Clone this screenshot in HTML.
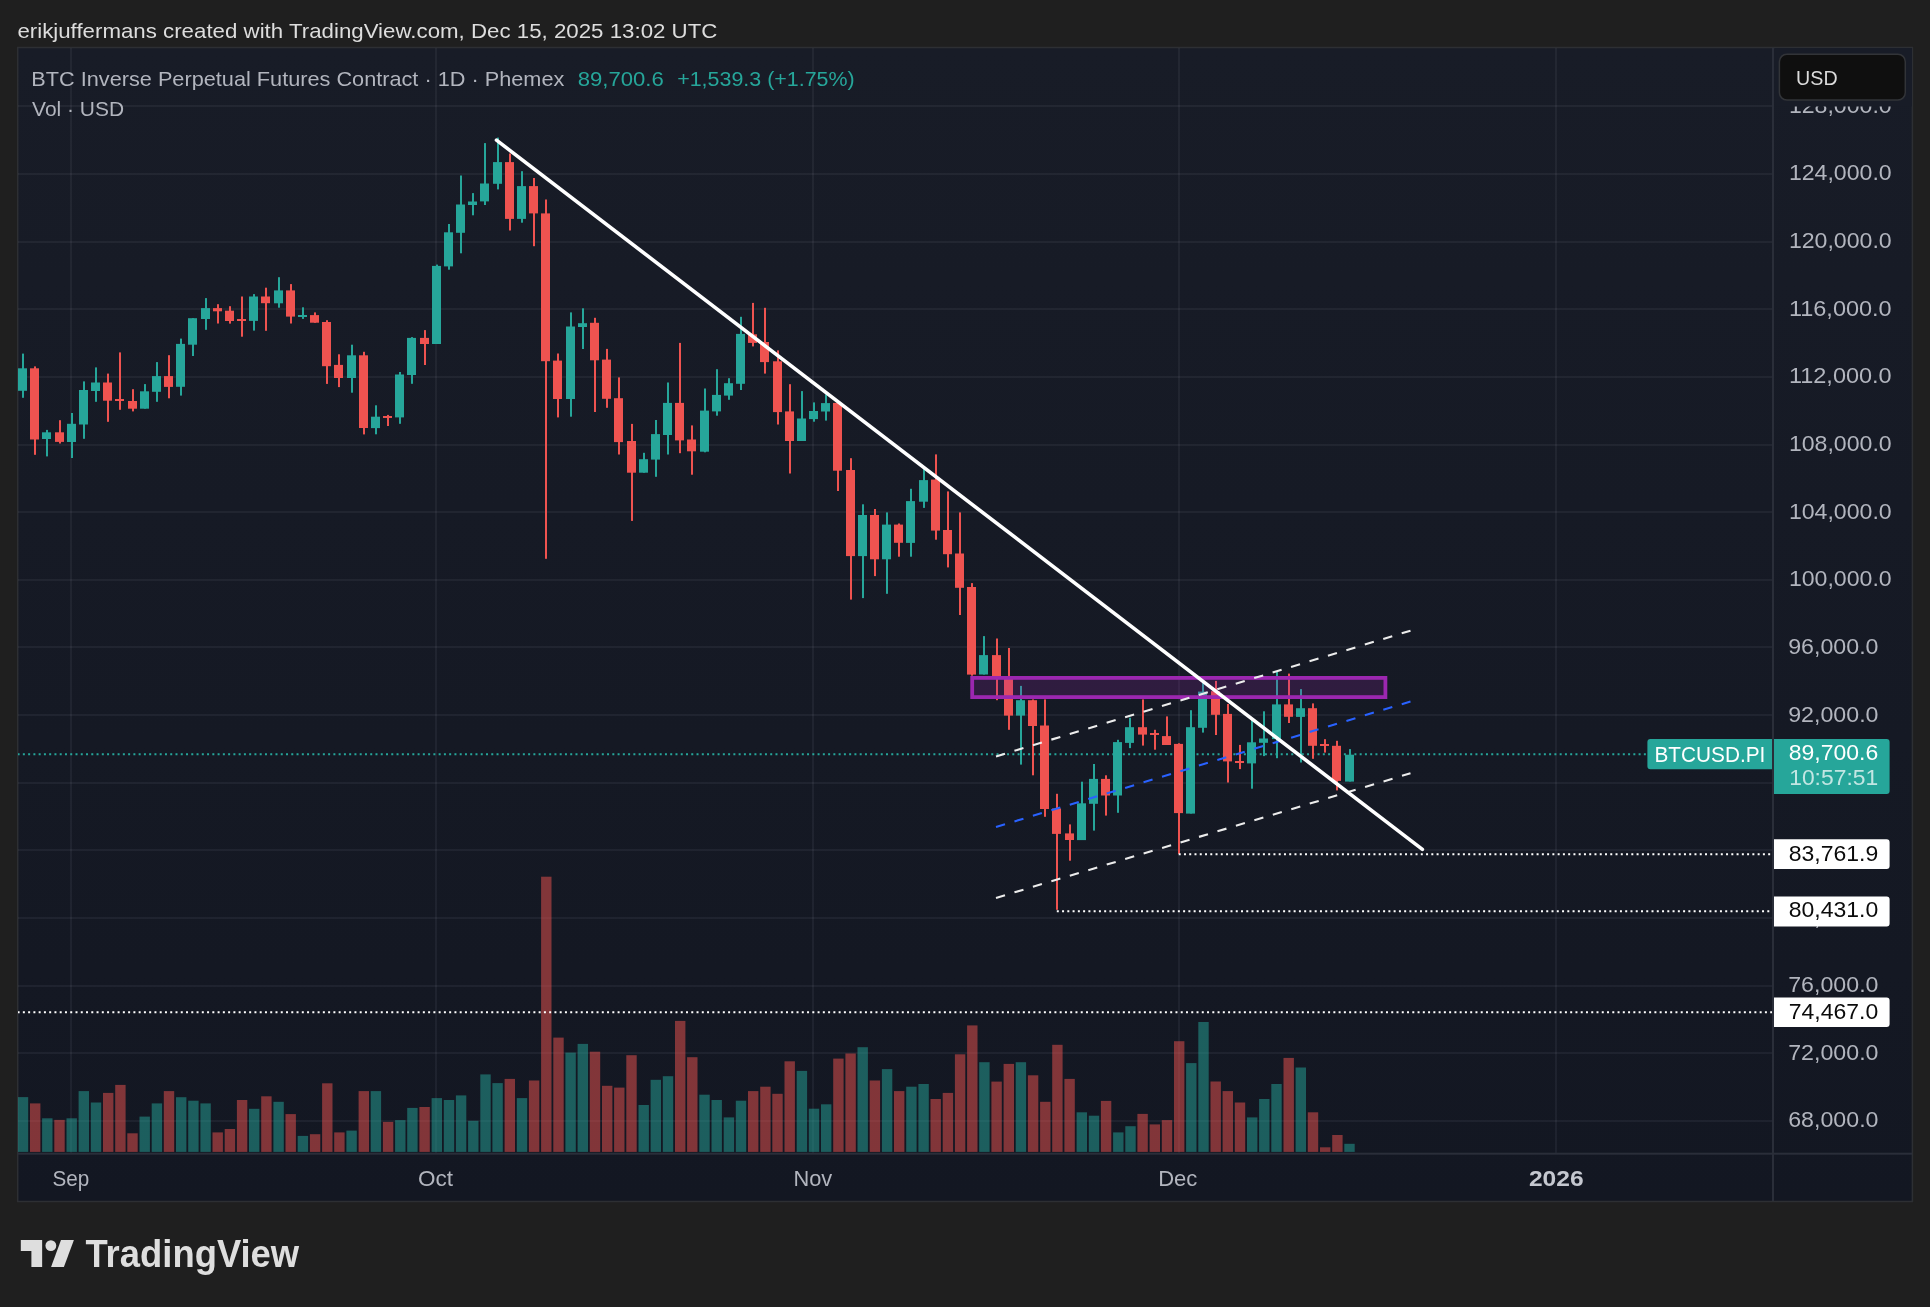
<!DOCTYPE html>
<html lang="en"><head><meta charset="utf-8"><title>BTCUSD.PI chart</title>
<style>html,body{margin:0;padding:0;background:#1f1f1f;}body{width:1930px;height:1307px;overflow:hidden;}svg{display:block;font-family:"Liberation Sans", sans-serif;will-change:transform;}text{white-space:pre;}</style></head><body>
<svg width="1930" height="1307" viewBox="0 0 1930 1307">
<defs><linearGradient id="bg" x1="0" y1="0" x2="0" y2="1"><stop offset="0" stop-color="#181c27"/><stop offset="1" stop-color="#131722"/></linearGradient>
<clipPath id="pane"><rect x="18" y="48" width="1755" height="1105"/></clipPath></defs>
<rect x="0" y="0" width="1930" height="1307" fill="#1f1f1f"/>
<text x="17.4" y="38.3" font-size="21.1" fill="#dddddd" textLength="700" lengthAdjust="spacingAndGlyphs">erikjuffermans created with TradingView.com, Dec 15, 2025 13:02 UTC</text>
<rect x="17.7" y="47.5" width="1894.7" height="1154" fill="url(#bg)" stroke="#2d2f33" stroke-width="1.5"/>
<rect x="18" y="105" width="1754" height="2" fill="rgba(240,243,250,0.056)"/>
<rect x="18" y="173" width="1754" height="2" fill="rgba(240,243,250,0.056)"/>
<rect x="18" y="241" width="1754" height="2" fill="rgba(240,243,250,0.056)"/>
<rect x="18" y="308" width="1754" height="2" fill="rgba(240,243,250,0.056)"/>
<rect x="18" y="376" width="1754" height="2" fill="rgba(240,243,250,0.056)"/>
<rect x="18" y="444" width="1754" height="2" fill="rgba(240,243,250,0.056)"/>
<rect x="18" y="511" width="1754" height="2" fill="rgba(240,243,250,0.056)"/>
<rect x="18" y="579" width="1754" height="2" fill="rgba(240,243,250,0.056)"/>
<rect x="18" y="646" width="1754" height="2" fill="rgba(240,243,250,0.056)"/>
<rect x="18" y="714" width="1754" height="2" fill="rgba(240,243,250,0.056)"/>
<rect x="18" y="782" width="1754" height="2" fill="rgba(240,243,250,0.056)"/>
<rect x="18" y="849" width="1754" height="2" fill="rgba(240,243,250,0.056)"/>
<rect x="18" y="917" width="1754" height="2" fill="rgba(240,243,250,0.056)"/>
<rect x="18" y="985" width="1754" height="2" fill="rgba(240,243,250,0.056)"/>
<rect x="18" y="1052" width="1754" height="2" fill="rgba(240,243,250,0.056)"/>
<rect x="18" y="1120" width="1754" height="2" fill="rgba(240,243,250,0.056)"/>
<rect x="70" y="48" width="2" height="1105" fill="rgba(240,243,250,0.056)"/>
<rect x="435" y="48" width="2" height="1105" fill="rgba(240,243,250,0.056)"/>
<rect x="812" y="48" width="2" height="1105" fill="rgba(240,243,250,0.056)"/>
<rect x="1178" y="48" width="2" height="1105" fill="rgba(240,243,250,0.056)"/>
<rect x="1555" y="48" width="2" height="1105" fill="rgba(240,243,250,0.056)"/>
<g clip-path="url(#pane)">
<rect x="17.8" y="1097.1" width="10.4" height="54.8" fill="rgba(38,166,154,0.5)"/>
<rect x="30.0" y="1103.4" width="10.4" height="48.5" fill="rgba(239,83,80,0.5)"/>
<rect x="42.1" y="1118.3" width="10.4" height="33.6" fill="rgba(38,166,154,0.5)"/>
<rect x="54.3" y="1119.9" width="10.4" height="32.0" fill="rgba(239,83,80,0.5)"/>
<rect x="66.5" y="1118.3" width="10.4" height="33.6" fill="rgba(38,166,154,0.5)"/>
<rect x="78.6" y="1091.1" width="10.4" height="60.8" fill="rgba(38,166,154,0.5)"/>
<rect x="90.8" y="1102.5" width="10.4" height="49.4" fill="rgba(38,166,154,0.5)"/>
<rect x="103.0" y="1092.9" width="10.4" height="59.0" fill="rgba(239,83,80,0.5)"/>
<rect x="115.2" y="1084.9" width="10.4" height="67.0" fill="rgba(239,83,80,0.5)"/>
<rect x="127.3" y="1133.3" width="10.4" height="18.6" fill="rgba(239,83,80,0.5)"/>
<rect x="139.5" y="1116.6" width="10.4" height="35.3" fill="rgba(38,166,154,0.5)"/>
<rect x="151.7" y="1103.4" width="10.4" height="48.5" fill="rgba(38,166,154,0.5)"/>
<rect x="163.8" y="1091.1" width="10.4" height="60.8" fill="rgba(239,83,80,0.5)"/>
<rect x="176.0" y="1097.2" width="10.4" height="54.7" fill="rgba(38,166,154,0.5)"/>
<rect x="188.2" y="1100.7" width="10.4" height="51.2" fill="rgba(38,166,154,0.5)"/>
<rect x="200.4" y="1103.4" width="10.4" height="48.5" fill="rgba(38,166,154,0.5)"/>
<rect x="212.5" y="1132.4" width="10.4" height="19.5" fill="rgba(239,83,80,0.5)"/>
<rect x="224.7" y="1129.0" width="10.4" height="22.9" fill="rgba(239,83,80,0.5)"/>
<rect x="236.9" y="1100.0" width="10.4" height="51.9" fill="rgba(239,83,80,0.5)"/>
<rect x="249.0" y="1108.8" width="10.4" height="43.1" fill="rgba(38,166,154,0.5)"/>
<rect x="261.2" y="1096.3" width="10.4" height="55.6" fill="rgba(239,83,80,0.5)"/>
<rect x="273.4" y="1101.8" width="10.4" height="50.1" fill="rgba(38,166,154,0.5)"/>
<rect x="285.5" y="1114.1" width="10.4" height="37.8" fill="rgba(239,83,80,0.5)"/>
<rect x="297.7" y="1135.9" width="10.4" height="16.0" fill="rgba(38,166,154,0.5)"/>
<rect x="309.9" y="1134.2" width="10.4" height="17.7" fill="rgba(239,83,80,0.5)"/>
<rect x="322.1" y="1083.3" width="10.4" height="68.6" fill="rgba(239,83,80,0.5)"/>
<rect x="334.2" y="1132.4" width="10.4" height="19.5" fill="rgba(239,83,80,0.5)"/>
<rect x="346.4" y="1130.6" width="10.4" height="21.3" fill="rgba(38,166,154,0.5)"/>
<rect x="358.6" y="1091.1" width="10.4" height="60.8" fill="rgba(239,83,80,0.5)"/>
<rect x="370.7" y="1091.1" width="10.4" height="60.8" fill="rgba(38,166,154,0.5)"/>
<rect x="382.9" y="1121.9" width="10.4" height="30.0" fill="rgba(239,83,80,0.5)"/>
<rect x="395.1" y="1120.1" width="10.4" height="31.8" fill="rgba(38,166,154,0.5)"/>
<rect x="407.2" y="1107.9" width="10.4" height="44.0" fill="rgba(38,166,154,0.5)"/>
<rect x="419.4" y="1107.0" width="10.4" height="44.9" fill="rgba(239,83,80,0.5)"/>
<rect x="431.6" y="1098.1" width="10.4" height="53.8" fill="rgba(38,166,154,0.5)"/>
<rect x="443.8" y="1100.0" width="10.4" height="51.9" fill="rgba(38,166,154,0.5)"/>
<rect x="455.9" y="1095.4" width="10.4" height="56.5" fill="rgba(38,166,154,0.5)"/>
<rect x="468.1" y="1120.8" width="10.4" height="31.1" fill="rgba(38,166,154,0.5)"/>
<rect x="480.3" y="1074.4" width="10.4" height="77.5" fill="rgba(38,166,154,0.5)"/>
<rect x="492.4" y="1083.1" width="10.4" height="68.8" fill="rgba(38,166,154,0.5)"/>
<rect x="504.6" y="1078.9" width="10.4" height="73.0" fill="rgba(239,83,80,0.5)"/>
<rect x="516.8" y="1098.1" width="10.4" height="53.8" fill="rgba(38,166,154,0.5)"/>
<rect x="528.9" y="1080.5" width="10.4" height="71.4" fill="rgba(239,83,80,0.5)"/>
<rect x="541.1" y="876.7" width="10.4" height="275.2" fill="rgba(239,83,80,0.5)"/>
<rect x="553.3" y="1037.6" width="10.4" height="114.3" fill="rgba(239,83,80,0.5)"/>
<rect x="565.4" y="1052.6" width="10.4" height="99.3" fill="rgba(38,166,154,0.5)"/>
<rect x="577.6" y="1043.9" width="10.4" height="108.0" fill="rgba(38,166,154,0.5)"/>
<rect x="589.8" y="1051.7" width="10.4" height="100.2" fill="rgba(239,83,80,0.5)"/>
<rect x="602.0" y="1085.8" width="10.4" height="66.1" fill="rgba(239,83,80,0.5)"/>
<rect x="614.1" y="1087.6" width="10.4" height="64.3" fill="rgba(239,83,80,0.5)"/>
<rect x="626.3" y="1055.2" width="10.4" height="96.7" fill="rgba(239,83,80,0.5)"/>
<rect x="638.5" y="1105.0" width="10.4" height="46.9" fill="rgba(38,166,154,0.5)"/>
<rect x="650.6" y="1079.8" width="10.4" height="72.1" fill="rgba(38,166,154,0.5)"/>
<rect x="662.8" y="1076.2" width="10.4" height="75.7" fill="rgba(38,166,154,0.5)"/>
<rect x="675.0" y="1020.9" width="10.4" height="131.0" fill="rgba(239,83,80,0.5)"/>
<rect x="687.1" y="1057.2" width="10.4" height="94.7" fill="rgba(239,83,80,0.5)"/>
<rect x="699.3" y="1094.7" width="10.4" height="57.2" fill="rgba(38,166,154,0.5)"/>
<rect x="711.5" y="1100.0" width="10.4" height="51.9" fill="rgba(38,166,154,0.5)"/>
<rect x="723.7" y="1117.4" width="10.4" height="34.5" fill="rgba(38,166,154,0.5)"/>
<rect x="735.8" y="1100.7" width="10.4" height="51.2" fill="rgba(38,166,154,0.5)"/>
<rect x="748.0" y="1091.1" width="10.4" height="60.8" fill="rgba(239,83,80,0.5)"/>
<rect x="760.2" y="1086.7" width="10.4" height="65.2" fill="rgba(239,83,80,0.5)"/>
<rect x="772.3" y="1093.8" width="10.4" height="58.1" fill="rgba(239,83,80,0.5)"/>
<rect x="784.5" y="1061.3" width="10.4" height="90.6" fill="rgba(239,83,80,0.5)"/>
<rect x="796.7" y="1070.9" width="10.4" height="81.0" fill="rgba(38,166,154,0.5)"/>
<rect x="808.8" y="1108.7" width="10.4" height="43.2" fill="rgba(38,166,154,0.5)"/>
<rect x="821.0" y="1104.3" width="10.4" height="47.6" fill="rgba(38,166,154,0.5)"/>
<rect x="833.2" y="1058.6" width="10.4" height="93.3" fill="rgba(239,83,80,0.5)"/>
<rect x="845.4" y="1053.5" width="10.4" height="98.4" fill="rgba(239,83,80,0.5)"/>
<rect x="857.5" y="1047.2" width="10.4" height="104.7" fill="rgba(38,166,154,0.5)"/>
<rect x="869.7" y="1080.5" width="10.4" height="71.4" fill="rgba(239,83,80,0.5)"/>
<rect x="881.9" y="1069.1" width="10.4" height="82.8" fill="rgba(38,166,154,0.5)"/>
<rect x="894.0" y="1091.1" width="10.4" height="60.8" fill="rgba(239,83,80,0.5)"/>
<rect x="906.2" y="1086.7" width="10.4" height="65.2" fill="rgba(38,166,154,0.5)"/>
<rect x="918.4" y="1084.0" width="10.4" height="67.9" fill="rgba(38,166,154,0.5)"/>
<rect x="930.5" y="1099.0" width="10.4" height="52.9" fill="rgba(239,83,80,0.5)"/>
<rect x="942.7" y="1092.9" width="10.4" height="59.0" fill="rgba(239,83,80,0.5)"/>
<rect x="954.9" y="1054.3" width="10.4" height="97.6" fill="rgba(239,83,80,0.5)"/>
<rect x="967.1" y="1025.4" width="10.4" height="126.5" fill="rgba(239,83,80,0.5)"/>
<rect x="979.2" y="1062.2" width="10.4" height="89.7" fill="rgba(38,166,154,0.5)"/>
<rect x="991.4" y="1081.6" width="10.4" height="70.3" fill="rgba(239,83,80,0.5)"/>
<rect x="1003.6" y="1063.9" width="10.4" height="88.0" fill="rgba(239,83,80,0.5)"/>
<rect x="1015.7" y="1062.2" width="10.4" height="89.7" fill="rgba(38,166,154,0.5)"/>
<rect x="1027.9" y="1075.3" width="10.4" height="76.6" fill="rgba(239,83,80,0.5)"/>
<rect x="1040.1" y="1101.8" width="10.4" height="50.1" fill="rgba(239,83,80,0.5)"/>
<rect x="1052.2" y="1044.8" width="10.4" height="107.1" fill="rgba(239,83,80,0.5)"/>
<rect x="1064.4" y="1078.9" width="10.4" height="73.0" fill="rgba(239,83,80,0.5)"/>
<rect x="1076.6" y="1112.3" width="10.4" height="39.6" fill="rgba(38,166,154,0.5)"/>
<rect x="1088.8" y="1115.7" width="10.4" height="36.2" fill="rgba(38,166,154,0.5)"/>
<rect x="1100.9" y="1100.9" width="10.4" height="51.0" fill="rgba(239,83,80,0.5)"/>
<rect x="1113.1" y="1132.4" width="10.4" height="19.5" fill="rgba(38,166,154,0.5)"/>
<rect x="1125.3" y="1126.2" width="10.4" height="25.7" fill="rgba(38,166,154,0.5)"/>
<rect x="1137.4" y="1113.9" width="10.4" height="38.0" fill="rgba(239,83,80,0.5)"/>
<rect x="1149.6" y="1124.4" width="10.4" height="27.5" fill="rgba(239,83,80,0.5)"/>
<rect x="1161.8" y="1120.1" width="10.4" height="31.8" fill="rgba(239,83,80,0.5)"/>
<rect x="1174.0" y="1041.2" width="10.4" height="110.7" fill="rgba(239,83,80,0.5)"/>
<rect x="1186.1" y="1063.1" width="10.4" height="88.8" fill="rgba(38,166,154,0.5)"/>
<rect x="1198.3" y="1022.0" width="10.4" height="129.9" fill="rgba(38,166,154,0.5)"/>
<rect x="1210.5" y="1081.5" width="10.4" height="70.4" fill="rgba(239,83,80,0.5)"/>
<rect x="1222.6" y="1091.1" width="10.4" height="60.8" fill="rgba(239,83,80,0.5)"/>
<rect x="1234.8" y="1102.5" width="10.4" height="49.4" fill="rgba(239,83,80,0.5)"/>
<rect x="1247.0" y="1117.4" width="10.4" height="34.5" fill="rgba(38,166,154,0.5)"/>
<rect x="1259.1" y="1099.0" width="10.4" height="52.9" fill="rgba(38,166,154,0.5)"/>
<rect x="1271.3" y="1084.0" width="10.4" height="67.9" fill="rgba(38,166,154,0.5)"/>
<rect x="1283.5" y="1057.9" width="10.4" height="94.0" fill="rgba(239,83,80,0.5)"/>
<rect x="1295.6" y="1067.5" width="10.4" height="84.4" fill="rgba(38,166,154,0.5)"/>
<rect x="1307.8" y="1112.3" width="10.4" height="39.6" fill="rgba(239,83,80,0.5)"/>
<rect x="1320.0" y="1147.3" width="10.4" height="4.6" fill="rgba(239,83,80,0.5)"/>
<rect x="1332.2" y="1135.0" width="10.4" height="16.9" fill="rgba(239,83,80,0.5)"/>
<rect x="1344.3" y="1143.8" width="10.4" height="8.1" fill="rgba(38,166,154,0.5)"/>
<line x1="17.6" x2="1647.0" y1="754.3" y2="754.3" stroke="#26a69a" stroke-width="2.1" stroke-dasharray="2 3.263"/>
<rect x="22" y="353.6" width="2" height="44.2" fill="#26a69a"/>
<rect x="18" y="368.3" width="9" height="22.5" fill="#26a69a"/>
<rect x="34" y="366.4" width="2" height="88.4" fill="#ef5350"/>
<rect x="30" y="368.3" width="9" height="71.2" fill="#ef5350"/>
<rect x="46" y="429.9" width="2" height="26.5" fill="#26a69a"/>
<rect x="42" y="432.3" width="9" height="6.7" fill="#26a69a"/>
<rect x="59" y="420.2" width="2" height="23.3" fill="#ef5350"/>
<rect x="55" y="432.3" width="9" height="9.6" fill="#ef5350"/>
<rect x="71" y="413.0" width="2" height="45.0" fill="#26a69a"/>
<rect x="67" y="423.8" width="9" height="18.2" fill="#26a69a"/>
<rect x="83" y="381.4" width="2" height="57.4" fill="#26a69a"/>
<rect x="79" y="390.0" width="9" height="34.5" fill="#26a69a"/>
<rect x="95" y="367.4" width="2" height="34.4" fill="#26a69a"/>
<rect x="91" y="382.5" width="9" height="8.5" fill="#26a69a"/>
<rect x="107" y="373.6" width="2" height="48.2" fill="#ef5350"/>
<rect x="103" y="382.5" width="9" height="18.2" fill="#ef5350"/>
<rect x="119" y="352.4" width="2" height="57.4" fill="#ef5350"/>
<rect x="115" y="399.0" width="9" height="2.0" fill="#ef5350"/>
<rect x="132" y="389.2" width="2" height="22.2" fill="#ef5350"/>
<rect x="128" y="401.0" width="9" height="7.7" fill="#ef5350"/>
<rect x="144" y="384.1" width="2" height="24.6" fill="#26a69a"/>
<rect x="140" y="391.3" width="9" height="17.4" fill="#26a69a"/>
<rect x="156" y="362.1" width="2" height="39.7" fill="#26a69a"/>
<rect x="152" y="376.1" width="9" height="15.7" fill="#26a69a"/>
<rect x="168" y="355.2" width="2" height="43.1" fill="#ef5350"/>
<rect x="164" y="376.1" width="9" height="10.8" fill="#ef5350"/>
<rect x="180" y="338.6" width="2" height="57.0" fill="#26a69a"/>
<rect x="176" y="343.9" width="9" height="42.9" fill="#26a69a"/>
<rect x="192" y="318.2" width="2" height="37.8" fill="#26a69a"/>
<rect x="188" y="318.2" width="9" height="26.5" fill="#26a69a"/>
<rect x="205" y="298.1" width="2" height="31.7" fill="#26a69a"/>
<rect x="201" y="308.1" width="9" height="10.9" fill="#26a69a"/>
<rect x="217" y="304.2" width="2" height="19.3" fill="#ef5350"/>
<rect x="213" y="308.1" width="9" height="3.2" fill="#ef5350"/>
<rect x="229" y="306.2" width="2" height="17.4" fill="#ef5350"/>
<rect x="225" y="310.7" width="9" height="10.3" fill="#ef5350"/>
<rect x="241" y="296.5" width="2" height="40.2" fill="#ef5350"/>
<rect x="237" y="319.0" width="9" height="2.0" fill="#ef5350"/>
<rect x="253" y="294.1" width="2" height="36.5" fill="#26a69a"/>
<rect x="249" y="296.5" width="9" height="24.4" fill="#26a69a"/>
<rect x="265" y="287.7" width="2" height="43.1" fill="#ef5350"/>
<rect x="261" y="296.5" width="9" height="6.7" fill="#ef5350"/>
<rect x="278" y="277.2" width="2" height="30.5" fill="#26a69a"/>
<rect x="274" y="290.4" width="9" height="12.9" fill="#26a69a"/>
<rect x="290" y="284.1" width="2" height="39.4" fill="#ef5350"/>
<rect x="286" y="290.4" width="9" height="26.2" fill="#ef5350"/>
<rect x="302" y="307.3" width="2" height="11.6" fill="#26a69a"/>
<rect x="298" y="315.0" width="9" height="2.0" fill="#26a69a"/>
<rect x="314" y="312.4" width="2" height="10.4" fill="#ef5350"/>
<rect x="310" y="315.1" width="9" height="7.6" fill="#ef5350"/>
<rect x="326" y="320.2" width="2" height="63.7" fill="#ef5350"/>
<rect x="322" y="322.0" width="9" height="44.2" fill="#ef5350"/>
<rect x="338" y="354.3" width="2" height="32.8" fill="#ef5350"/>
<rect x="334" y="364.9" width="9" height="13.1" fill="#ef5350"/>
<rect x="351" y="344.7" width="2" height="48.0" fill="#26a69a"/>
<rect x="347" y="355.3" width="9" height="22.7" fill="#26a69a"/>
<rect x="363" y="351.8" width="2" height="82.6" fill="#ef5350"/>
<rect x="359" y="355.3" width="9" height="72.7" fill="#ef5350"/>
<rect x="375" y="405.3" width="2" height="29.0" fill="#26a69a"/>
<rect x="371" y="416.7" width="9" height="11.4" fill="#26a69a"/>
<rect x="387" y="414.9" width="2" height="11.1" fill="#ef5350"/>
<rect x="383" y="416.0" width="9" height="2.0" fill="#ef5350"/>
<rect x="399" y="372.0" width="2" height="51.8" fill="#26a69a"/>
<rect x="395" y="374.5" width="9" height="42.9" fill="#26a69a"/>
<rect x="411" y="337.1" width="2" height="46.7" fill="#26a69a"/>
<rect x="407" y="337.9" width="9" height="37.1" fill="#26a69a"/>
<rect x="424" y="330.1" width="2" height="34.9" fill="#ef5350"/>
<rect x="420" y="337.9" width="9" height="6.1" fill="#ef5350"/>
<rect x="436" y="264.6" width="2" height="79.3" fill="#26a69a"/>
<rect x="432" y="265.9" width="9" height="78.1" fill="#26a69a"/>
<rect x="448" y="224.0" width="2" height="45.7" fill="#26a69a"/>
<rect x="444" y="232.3" width="9" height="34.1" fill="#26a69a"/>
<rect x="460" y="175.5" width="2" height="77.8" fill="#26a69a"/>
<rect x="456" y="204.5" width="9" height="28.3" fill="#26a69a"/>
<rect x="472" y="193.1" width="2" height="22.2" fill="#26a69a"/>
<rect x="468" y="201.5" width="9" height="3.5" fill="#26a69a"/>
<rect x="484" y="143.1" width="2" height="61.9" fill="#26a69a"/>
<rect x="480" y="183.5" width="9" height="17.9" fill="#26a69a"/>
<rect x="497" y="137.6" width="2" height="51.8" fill="#26a69a"/>
<rect x="493" y="162.1" width="9" height="21.7" fill="#26a69a"/>
<rect x="509" y="153.5" width="2" height="77.0" fill="#ef5350"/>
<rect x="505" y="162.1" width="9" height="56.8" fill="#ef5350"/>
<rect x="521" y="171.2" width="2" height="51.5" fill="#26a69a"/>
<rect x="517" y="186.1" width="9" height="32.8" fill="#26a69a"/>
<rect x="533" y="178.0" width="2" height="68.2" fill="#ef5350"/>
<rect x="529" y="186.1" width="9" height="27.3" fill="#ef5350"/>
<rect x="545" y="199.5" width="2" height="359.3" fill="#ef5350"/>
<rect x="541" y="213.4" width="9" height="147.8" fill="#ef5350"/>
<rect x="557" y="353.5" width="2" height="63.9" fill="#ef5350"/>
<rect x="553" y="360.6" width="9" height="38.4" fill="#ef5350"/>
<rect x="570" y="312.4" width="2" height="104.3" fill="#26a69a"/>
<rect x="566" y="326.5" width="9" height="72.5" fill="#26a69a"/>
<rect x="582" y="308.3" width="2" height="40.7" fill="#26a69a"/>
<rect x="578" y="323.2" width="9" height="3.8" fill="#26a69a"/>
<rect x="594" y="317.8" width="2" height="94.2" fill="#ef5350"/>
<rect x="590" y="322.8" width="9" height="37.5" fill="#ef5350"/>
<rect x="606" y="348.9" width="2" height="58.9" fill="#ef5350"/>
<rect x="602" y="359.6" width="9" height="39.2" fill="#ef5350"/>
<rect x="618" y="377.4" width="2" height="77.1" fill="#ef5350"/>
<rect x="614" y="398.2" width="9" height="43.9" fill="#ef5350"/>
<rect x="631" y="423.9" width="2" height="97.0" fill="#ef5350"/>
<rect x="627" y="441.0" width="9" height="31.7" fill="#ef5350"/>
<rect x="643" y="452.8" width="2" height="19.9" fill="#26a69a"/>
<rect x="639" y="459.2" width="9" height="13.5" fill="#26a69a"/>
<rect x="655" y="420.0" width="2" height="56.8" fill="#26a69a"/>
<rect x="651" y="434.1" width="9" height="25.5" fill="#26a69a"/>
<rect x="667" y="382.5" width="2" height="72.0" fill="#26a69a"/>
<rect x="663" y="402.9" width="9" height="32.1" fill="#26a69a"/>
<rect x="679" y="342.9" width="2" height="110.3" fill="#ef5350"/>
<rect x="675" y="402.9" width="9" height="37.5" fill="#ef5350"/>
<rect x="691" y="425.4" width="2" height="49.3" fill="#ef5350"/>
<rect x="687" y="439.5" width="9" height="11.8" fill="#ef5350"/>
<rect x="704" y="388.5" width="2" height="63.8" fill="#26a69a"/>
<rect x="700" y="410.6" width="9" height="41.1" fill="#26a69a"/>
<rect x="716" y="369.2" width="2" height="46.5" fill="#26a69a"/>
<rect x="712" y="394.9" width="9" height="16.5" fill="#26a69a"/>
<rect x="728" y="378.2" width="2" height="21.6" fill="#26a69a"/>
<rect x="724" y="383.2" width="9" height="12.4" fill="#26a69a"/>
<rect x="740" y="316.8" width="2" height="73.2" fill="#26a69a"/>
<rect x="736" y="333.9" width="9" height="49.9" fill="#26a69a"/>
<rect x="752" y="302.9" width="2" height="43.5" fill="#ef5350"/>
<rect x="748" y="334.3" width="9" height="8.6" fill="#ef5350"/>
<rect x="764" y="307.8" width="2" height="65.8" fill="#ef5350"/>
<rect x="760" y="342.0" width="9" height="20.1" fill="#ef5350"/>
<rect x="777" y="350.4" width="2" height="74.1" fill="#ef5350"/>
<rect x="773" y="361.3" width="9" height="50.8" fill="#ef5350"/>
<rect x="789" y="384.2" width="2" height="89.3" fill="#ef5350"/>
<rect x="785" y="411.4" width="9" height="29.6" fill="#ef5350"/>
<rect x="801" y="391.1" width="2" height="49.9" fill="#26a69a"/>
<rect x="797" y="418.5" width="9" height="22.5" fill="#26a69a"/>
<rect x="813" y="402.4" width="2" height="19.3" fill="#26a69a"/>
<rect x="809" y="411.0" width="9" height="8.1" fill="#26a69a"/>
<rect x="825" y="394.3" width="2" height="26.3" fill="#26a69a"/>
<rect x="821" y="403.1" width="9" height="8.4" fill="#26a69a"/>
<rect x="837" y="402.9" width="2" height="88.1" fill="#ef5350"/>
<rect x="833" y="402.9" width="9" height="67.8" fill="#ef5350"/>
<rect x="850" y="458.2" width="2" height="141.4" fill="#ef5350"/>
<rect x="846" y="470.0" width="9" height="86.1" fill="#ef5350"/>
<rect x="862" y="504.3" width="2" height="93.8" fill="#26a69a"/>
<rect x="858" y="515.0" width="9" height="41.1" fill="#26a69a"/>
<rect x="874" y="509.0" width="2" height="67.1" fill="#ef5350"/>
<rect x="870" y="515.0" width="9" height="44.3" fill="#ef5350"/>
<rect x="886" y="512.4" width="2" height="81.4" fill="#26a69a"/>
<rect x="882" y="524.6" width="9" height="34.7" fill="#26a69a"/>
<rect x="898" y="523.5" width="2" height="33.2" fill="#ef5350"/>
<rect x="894" y="524.6" width="9" height="18.2" fill="#ef5350"/>
<rect x="910" y="488.8" width="2" height="67.9" fill="#26a69a"/>
<rect x="906" y="501.1" width="9" height="41.8" fill="#26a69a"/>
<rect x="923" y="468.9" width="2" height="39.0" fill="#26a69a"/>
<rect x="919" y="480.1" width="9" height="21.6" fill="#26a69a"/>
<rect x="935" y="454.4" width="2" height="85.3" fill="#ef5350"/>
<rect x="931" y="479.6" width="9" height="51.0" fill="#ef5350"/>
<rect x="947" y="491.4" width="2" height="76.0" fill="#ef5350"/>
<rect x="943" y="530.0" width="9" height="24.2" fill="#ef5350"/>
<rect x="959" y="512.4" width="2" height="102.6" fill="#ef5350"/>
<rect x="955" y="553.5" width="9" height="34.3" fill="#ef5350"/>
<rect x="971" y="583.1" width="2" height="92.6" fill="#ef5350"/>
<rect x="967" y="587.0" width="9" height="87.6" fill="#ef5350"/>
<rect x="983" y="636.1" width="2" height="38.4" fill="#26a69a"/>
<rect x="979" y="655.1" width="9" height="19.4" fill="#26a69a"/>
<rect x="996" y="638.5" width="2" height="61.7" fill="#ef5350"/>
<rect x="992" y="655.1" width="9" height="21.8" fill="#ef5350"/>
<rect x="1008" y="648.0" width="2" height="81.8" fill="#ef5350"/>
<rect x="1004" y="678.1" width="9" height="37.5" fill="#ef5350"/>
<rect x="1020" y="685.9" width="2" height="78.7" fill="#26a69a"/>
<rect x="1016" y="700.2" width="9" height="15.4" fill="#26a69a"/>
<rect x="1032" y="699.4" width="2" height="75.9" fill="#ef5350"/>
<rect x="1028" y="700.2" width="9" height="25.8" fill="#ef5350"/>
<rect x="1044" y="699.4" width="2" height="117.4" fill="#ef5350"/>
<rect x="1040" y="725.5" width="9" height="83.5" fill="#ef5350"/>
<rect x="1056" y="793.8" width="2" height="116.0" fill="#ef5350"/>
<rect x="1052" y="808.5" width="9" height="25.4" fill="#ef5350"/>
<rect x="1069" y="824.4" width="2" height="36.3" fill="#ef5350"/>
<rect x="1065" y="833.4" width="9" height="6.6" fill="#ef5350"/>
<rect x="1081" y="781.7" width="2" height="58.3" fill="#26a69a"/>
<rect x="1077" y="803.3" width="9" height="36.8" fill="#26a69a"/>
<rect x="1093" y="764.0" width="2" height="66.6" fill="#26a69a"/>
<rect x="1089" y="778.9" width="9" height="24.9" fill="#26a69a"/>
<rect x="1105" y="775.3" width="2" height="40.3" fill="#ef5350"/>
<rect x="1101" y="778.9" width="9" height="16.6" fill="#ef5350"/>
<rect x="1117" y="739.8" width="2" height="73.0" fill="#26a69a"/>
<rect x="1113" y="742.1" width="9" height="53.4" fill="#26a69a"/>
<rect x="1129" y="717.7" width="2" height="30.4" fill="#26a69a"/>
<rect x="1125" y="727.2" width="9" height="15.7" fill="#26a69a"/>
<rect x="1142" y="699.4" width="2" height="46.2" fill="#ef5350"/>
<rect x="1138" y="727.2" width="9" height="7.4" fill="#ef5350"/>
<rect x="1154" y="729.8" width="2" height="19.9" fill="#ef5350"/>
<rect x="1150" y="733.0" width="9" height="2.0" fill="#ef5350"/>
<rect x="1166" y="716.4" width="2" height="28.5" fill="#ef5350"/>
<rect x="1162" y="736.1" width="9" height="8.9" fill="#ef5350"/>
<rect x="1178" y="743.3" width="2" height="110.6" fill="#ef5350"/>
<rect x="1174" y="743.9" width="9" height="69.2" fill="#ef5350"/>
<rect x="1190" y="710.2" width="2" height="103.3" fill="#26a69a"/>
<rect x="1186" y="727.2" width="9" height="86.4" fill="#26a69a"/>
<rect x="1202" y="681.3" width="2" height="51.3" fill="#26a69a"/>
<rect x="1198" y="691.6" width="9" height="36.2" fill="#26a69a"/>
<rect x="1215" y="680.9" width="2" height="54.1" fill="#ef5350"/>
<rect x="1211" y="691.2" width="9" height="23.6" fill="#ef5350"/>
<rect x="1227" y="704.0" width="2" height="78.5" fill="#ef5350"/>
<rect x="1223" y="713.9" width="9" height="47.5" fill="#ef5350"/>
<rect x="1239" y="744.9" width="2" height="24.2" fill="#ef5350"/>
<rect x="1235" y="761.0" width="9" height="2.0" fill="#ef5350"/>
<rect x="1251" y="719.5" width="2" height="69.2" fill="#26a69a"/>
<rect x="1247" y="742.3" width="9" height="21.1" fill="#26a69a"/>
<rect x="1263" y="711.3" width="2" height="44.8" fill="#26a69a"/>
<rect x="1259" y="738.5" width="9" height="4.3" fill="#26a69a"/>
<rect x="1276" y="671.6" width="2" height="86.6" fill="#26a69a"/>
<rect x="1272" y="704.4" width="9" height="34.7" fill="#26a69a"/>
<rect x="1288" y="673.6" width="2" height="49.4" fill="#ef5350"/>
<rect x="1284" y="704.4" width="9" height="12.4" fill="#ef5350"/>
<rect x="1300" y="689.1" width="2" height="73.4" fill="#26a69a"/>
<rect x="1296" y="708.2" width="9" height="8.7" fill="#26a69a"/>
<rect x="1312" y="703.4" width="2" height="55.4" fill="#ef5350"/>
<rect x="1308" y="708.2" width="9" height="37.6" fill="#ef5350"/>
<rect x="1324" y="739.2" width="2" height="13.4" fill="#ef5350"/>
<rect x="1320" y="744.0" width="9" height="2.0" fill="#ef5350"/>
<rect x="1336" y="740.8" width="2" height="49.6" fill="#ef5350"/>
<rect x="1332" y="745.8" width="9" height="35.1" fill="#ef5350"/>
<rect x="1349" y="749.1" width="2" height="32.4" fill="#26a69a"/>
<rect x="1345" y="754.7" width="9" height="26.9" fill="#26a69a"/>
<rect x="972.2" y="677.9" width="413.2" height="19.2" fill="#9c27b0" fill-opacity="0.2" stroke="#9c27b0" stroke-width="3.8"/>
<line x1="996" y1="756.4" x2="1410.5" y2="630.7" stroke="#ececec" stroke-width="2.1" stroke-dasharray="9.4 9.87"/>
<line x1="996" y1="827" x2="1410.5" y2="701.5" stroke="#2962ff" stroke-width="2.1" stroke-dasharray="9.4 9.87"/>
<line x1="996" y1="897.9" x2="1410.5" y2="773.3" stroke="#ececec" stroke-width="2.1" stroke-dasharray="9.4 9.87"/>
<line x1="496.5" y1="140.1" x2="1422.4" y2="849.4" stroke="#ffffff" stroke-width="3.6" stroke-linecap="round"/>
<line x1="1178.7" x2="1773.0" y1="854.2" y2="854.2" stroke="#ffffff" stroke-width="2.1" stroke-dasharray="2 3.263"/>
<line x1="1056.8" x2="1773.0" y1="911.3" y2="911.3" stroke="#ffffff" stroke-width="2.1" stroke-dasharray="2 3.263"/>
<line x1="17.6" x2="1773.0" y1="1012.3" y2="1012.3" stroke="#ffffff" stroke-width="2.1" stroke-dasharray="2 3.263"/>
</g>
<text x="31.3" y="86.1" font-size="21.1" fill="#b2b5be" textLength="533" lengthAdjust="spacingAndGlyphs">BTC Inverse Perpetual Futures Contract · 1D · Phemex</text>
<text x="577.7" y="86.1" font-size="21.1" fill="#26a69a" textLength="86" lengthAdjust="spacingAndGlyphs">89,700.6</text>
<text x="677.2" y="86.1" font-size="21.1" fill="#26a69a" textLength="177.5" lengthAdjust="spacingAndGlyphs">+1,539.3 (+1.75%)</text>
<text x="32.1" y="115.7" font-size="21.1" fill="#b2b5be" textLength="92" lengthAdjust="spacingAndGlyphs">Vol · USD</text>
<rect x="1772" y="48" width="2" height="1153" fill="#2a2e39"/>
<rect x="18" y="1152.7" width="1894" height="2" fill="#2a2e39"/>
<text x="1788.9" y="112.8" font-size="21.3" fill="#b2b5be" textLength="102.8" lengthAdjust="spacingAndGlyphs">128,000.0</text>
<text x="1788.9" y="180.4" font-size="21.3" fill="#b2b5be" textLength="102.8" lengthAdjust="spacingAndGlyphs">124,000.0</text>
<text x="1788.9" y="248.0" font-size="21.3" fill="#b2b5be" textLength="102.8" lengthAdjust="spacingAndGlyphs">120,000.0</text>
<text x="1788.9" y="315.7" font-size="21.3" fill="#b2b5be" textLength="102.8" lengthAdjust="spacingAndGlyphs">116,000.0</text>
<text x="1788.9" y="383.3" font-size="21.3" fill="#b2b5be" textLength="102.8" lengthAdjust="spacingAndGlyphs">112,000.0</text>
<text x="1788.9" y="451.0" font-size="21.3" fill="#b2b5be" textLength="102.8" lengthAdjust="spacingAndGlyphs">108,000.0</text>
<text x="1788.9" y="518.6" font-size="21.3" fill="#b2b5be" textLength="102.8" lengthAdjust="spacingAndGlyphs">104,000.0</text>
<text x="1788.9" y="586.3" font-size="21.3" fill="#b2b5be" textLength="102.8" lengthAdjust="spacingAndGlyphs">100,000.0</text>
<text x="1788.2" y="653.9" font-size="21.3" fill="#b2b5be" textLength="90.3" lengthAdjust="spacingAndGlyphs">96,000.0</text>
<text x="1788.2" y="721.5" font-size="21.3" fill="#b2b5be" textLength="90.3" lengthAdjust="spacingAndGlyphs">92,000.0</text>
<text x="1788.2" y="789.2" font-size="21.3" fill="#b2b5be" textLength="90.3" lengthAdjust="spacingAndGlyphs">88,000.0</text>
<text x="1788.2" y="856.8" font-size="21.3" fill="#b2b5be" textLength="90.3" lengthAdjust="spacingAndGlyphs">84,000.0</text>
<text x="1788.2" y="924.5" font-size="21.3" fill="#b2b5be" textLength="90.3" lengthAdjust="spacingAndGlyphs">80,000.0</text>
<text x="1788.2" y="992.1" font-size="21.3" fill="#b2b5be" textLength="90.3" lengthAdjust="spacingAndGlyphs">76,000.0</text>
<text x="1788.2" y="1059.8" font-size="21.3" fill="#b2b5be" textLength="90.3" lengthAdjust="spacingAndGlyphs">72,000.0</text>
<text x="1788.2" y="1127.4" font-size="21.3" fill="#b2b5be" textLength="90.3" lengthAdjust="spacingAndGlyphs">68,000.0</text>
<rect x="1775" y="48" width="137" height="58.5" fill="#181c27"/>
<rect x="1779.4" y="54.2" width="125.9" height="45.9" rx="7.5" fill="#0f0f0f" stroke="#323438" stroke-width="1.5"/>
<text x="1796.1" y="85.1" font-size="21.1" fill="#dbdbdb" textLength="41.5" lengthAdjust="spacingAndGlyphs">USD</text>
<path d="M1650.4 739.1H1772V769.2H1650.4a3 3 0 0 1 -3 -3V742.1a3 3 0 0 1 3 -3z" fill="#26a69a"/>
<text x="1654.4" y="761.8" font-size="21.3" fill="#ffffff" textLength="111" lengthAdjust="spacingAndGlyphs">BTCUSD.PI</text>
<path d="M1774 739.1H1886.6a3 3 0 0 1 3 3V791a3 3 0 0 1 -3 3H1774z" fill="#26a69a"/>
<text x="1788.8" y="760.3" font-size="21.3" fill="#ffffff" textLength="89.5" lengthAdjust="spacingAndGlyphs">89,700.6</text>
<text x="1789.2" y="784.7" font-size="21.3" fill="#ffffff" fill-opacity="0.72" textLength="89" lengthAdjust="spacingAndGlyphs">10:57:51</text>
<path d="M1774 839.2H1886.6a3 3 0 0 1 3 3V866.0a3 3 0 0 1 -3 3H1774z" fill="#ffffff"/>
<text x="1788.8" y="860.8" font-size="21.3" fill="#0b0b0b" textLength="89.5" lengthAdjust="spacingAndGlyphs">83,761.9</text>
<path d="M1774 896.5H1886.6a3 3 0 0 1 3 3V923.4a3 3 0 0 1 -3 3H1774z" fill="#ffffff"/>
<text x="1788.8" y="917.2" font-size="21.3" fill="#0b0b0b" textLength="89.5" lengthAdjust="spacingAndGlyphs">80,431.0</text>
<path d="M1774 997.5H1886.6a3 3 0 0 1 3 3V1023.9a3 3 0 0 1 -3 3H1774z" fill="#ffffff"/>
<text x="1788.8" y="1018.6" font-size="21.3" fill="#0b0b0b" textLength="89.5" lengthAdjust="spacingAndGlyphs">74,467.0</text>
<text x="70.8" y="1186.3" font-size="21.3" fill="#b2b5be" text-anchor="middle" textLength="36.8" lengthAdjust="spacingAndGlyphs">Sep</text>
<text x="435.6" y="1186.3" font-size="21.3" fill="#b2b5be" text-anchor="middle" textLength="35.0" lengthAdjust="spacingAndGlyphs">Oct</text>
<text x="812.8" y="1186.3" font-size="21.3" fill="#b2b5be" text-anchor="middle" textLength="38.8" lengthAdjust="spacingAndGlyphs">Nov</text>
<text x="1177.8" y="1186.3" font-size="21.3" fill="#b2b5be" text-anchor="middle" textLength="39.2" lengthAdjust="spacingAndGlyphs">Dec</text>
<text x="1556.3" y="1186.3" font-size="21.3" fill="#c5c8d0" text-anchor="middle" textLength="54.7" lengthAdjust="spacingAndGlyphs" font-weight="bold">2026</text>
<g fill="#dedede"><path d="M20.8 1240H42.15V1266.9H31.4V1251.1H20.8z"/><circle cx="50.85" cy="1245.65" r="5.4"/><path d="M61 1240H73.9L63.9 1266.9H51.06z"/></g>
<text x="85.4" y="1266.9" font-size="37.9" font-weight="bold" fill="#dedede" textLength="213.8" lengthAdjust="spacingAndGlyphs">TradingView</text>
</svg></body></html>
